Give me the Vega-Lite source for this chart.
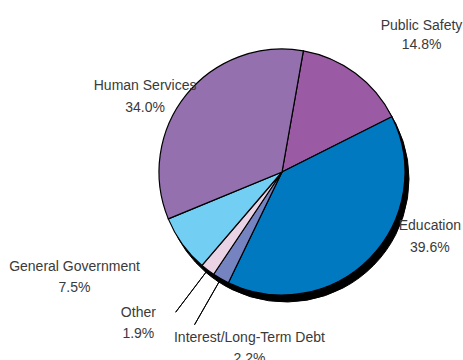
{
  "$schema": "https://vega.github.io/schema/vega-lite/v6.json",
  "width": 250,
  "height": 250,
  "autosize": "none",
  "padding": {"left": 157, "top": 47, "right": 56, "bottom": 63},
  "background": "white",
  "config": {
    "view": {"stroke": null},
    "text": {"font": "Liberation Sans", "fontSize": 14, "color": "#3a3a3a", "baseline": "alphabetic", "align": "center"}
  },
  "data": {
    "values": [
      {"category": "Public Safety", "share": 0.148, "rank": 1},
      {"category": "Education", "share": 0.396, "rank": 2},
      {"category": "Interest/Long-Term Debt", "share": 0.022, "rank": 3},
      {"category": "Other", "share": 0.019, "rank": 4},
      {"category": "General Government", "share": 0.075, "rank": 5},
      {"category": "Human Services", "share": 0.34, "rank": 6}
    ]
  },
  "encoding": {
    "theta": {"field": "share", "type": "quantitative", "stack": true, "scale": {"range": [0.1745, 6.4577]}},
    "order": {"field": "rank", "type": "quantitative"}
  },
  "layer": [
    {
      "mark": {"type": "arc", "outerRadius": 123, "fill": "black", "stroke": "black", "strokeWidth": 1, "xOffset": 4, "yOffset": 7}
    },
    {
      "mark": {"type": "arc", "outerRadius": 123, "stroke": "black", "strokeWidth": 1.2},
      "encoding": {
        "color": {
          "field": "category", "type": "nominal", "legend": null,
          "scale": {
            "domain": ["Public Safety", "Education", "Interest/Long-Term Debt", "Other", "General Government", "Human Services"],
            "range": ["#9B5BA4", "#0079C1", "#7683C1", "#E9D3E5", "#72CFF3", "#9470AF"]
          }
        }
      }
    },
    {
      "mark": {"type": "arc", "innerRadius": 126, "outerRadius": 176, "padAngle": 0.2, "fillOpacity": 0, "stroke": "black", "strokeWidth": 1},
      "encoding": {
        "strokeOpacity": {"condition": {"test": "datum.category === 'Other' || datum.category === 'Interest/Long-Term Debt'", "value": 1}, "value": 0}
      }
    },
    {"mark": {"type": "text", "radius": 150, "dx": 50, "dy": -22}, "encoding": {"text": {"condition": {"test": "datum.category === 'Public Safety'", "field": "category"}, "value": ""}}},
    {"mark": {"type": "text", "radius": 150, "dx": 50, "dy": -3}, "encoding": {"text": {"condition": {"test": "datum.category === 'Public Safety'", "field": "share", "format": ".1%"}, "value": ""}}},
    {"mark": {"type": "text", "radius": 150, "dx": 41, "dy": -47}, "encoding": {"text": {"condition": {"test": "datum.category === 'Education'", "field": "category"}, "value": ""}}},
    {"mark": {"type": "text", "radius": 150, "dx": 41, "dy": -25}, "encoding": {"text": {"condition": {"test": "datum.category === 'Education'", "field": "share", "format": ".1%"}, "value": ""}}},
    {"mark": {"type": "text", "radius": 150, "dx": -20, "dy": 12}, "encoding": {"text": {"condition": {"test": "datum.category === 'Human Services'", "field": "category"}, "value": ""}}},
    {"mark": {"type": "text", "radius": 150, "dx": -20, "dy": 34}, "encoding": {"text": {"condition": {"test": "datum.category === 'Human Services'", "field": "share", "format": ".1%"}, "value": ""}}},
    {"mark": {"type": "text", "radius": 150, "dx": -86, "dy": 11}, "encoding": {"text": {"condition": {"test": "datum.category === 'General Government'", "field": "category"}, "value": ""}}},
    {"mark": {"type": "text", "radius": 150, "dx": -86, "dy": 32}, "encoding": {"text": {"condition": {"test": "datum.category === 'General Government'", "field": "share", "format": ".1%"}, "value": ""}}},
    {"mark": {"type": "text", "radius": 150, "dx": -53, "dy": 25}, "encoding": {"text": {"condition": {"test": "datum.category === 'Other'", "field": "category"}, "value": ""}}},
    {"mark": {"type": "text", "radius": 150, "dx": -53, "dy": 46}, "encoding": {"text": {"condition": {"test": "datum.category === 'Other'", "field": "share", "format": ".1%"}, "value": ""}}},
    {"mark": {"type": "text", "radius": 150, "dx": 42, "dy": 40}, "encoding": {"text": {"condition": {"test": "datum.category === 'Interest/Long-Term Debt'", "field": "category"}, "value": ""}}},
    {"mark": {"type": "text", "radius": 150, "dx": 42, "dy": 61}, "encoding": {"text": {"condition": {"test": "datum.category === 'Interest/Long-Term Debt'", "field": "share", "format": ".1%"}, "value": ""}}}
  ]
}
